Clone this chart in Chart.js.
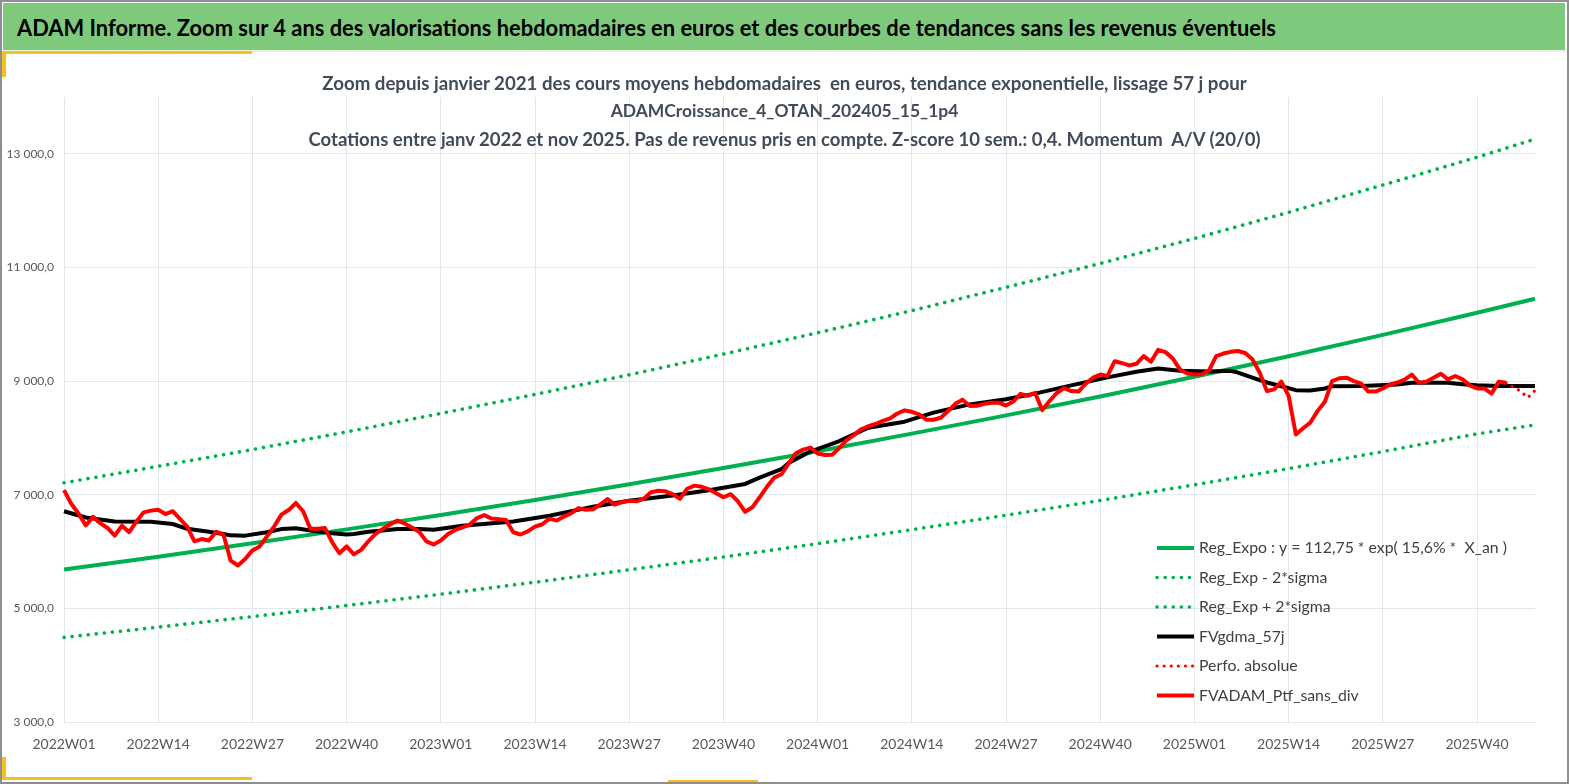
<!DOCTYPE html>
<html lang="fr">
<head>
<meta charset="utf-8">
<title>ADAM Informe</title>
<script src="https://cdn.jsdelivr.net/npm/chart.js@4.4.1/dist/chart.umd.min.js"></script>
<style>
  body { margin: 0; background: #fff; }
  #page { position: relative; width: 1569px; height: 784px; overflow: hidden; background: #fff;
          font-family: Lato, "Open Sans", sans-serif; }
  #frame { position: absolute; left: 0; top: 0; right: 0; bottom: 0; border: 2px solid #8f8f8f;
           box-sizing: border-box; z-index: 6; pointer-events: none; }
  #header { position: absolute; left: 3px; top: 3px; width: 1562px; height: 47px; background: #7fc97d;
            border-bottom: 2px solid #e4f2de; z-index: 3; }
  #header span { position: absolute; left: 14px; top: 50%; transform: translateY(-50%);
                 font-weight: bold; font-size: 22px; color: #000; white-space: pre; }
  .yel { position: absolute; background: #f5c21b; z-index: 4; }
  #subtitle { position: absolute; left: 0; top: 69px; width: 1569px; text-align: center; z-index: 3;
              color: #414b59; font-weight: bold; }
  #subtitle div { height: 28px; line-height: 28px; }
  #subtitle span { white-space: pre; font-size: 16.5px; }
  #chartBox { position: absolute; left: 0; top: 0; width: 1569px; height: 784px; z-index: 2; }
</style>
</head>
<body>
<div id="page">
  <div id="header"><span id="headText">ADAM Informe. Zoom sur 4 ans des valorisations hebdomadaires en euros et des courbes de tendances sans les revenus éventuels</span></div>
  <div class="yel" style="left:2px; top:51px; width:250px; height:3px;"></div>
  <div class="yel" style="left:2px; top:51px; width:4px; height:26px;"></div>
  <div class="yel" style="left:2px; top:757px; width:4px; height:23px;"></div>
  <div class="yel" style="left:2px; top:777px; width:250px; height:3px;"></div>
  <div class="yel" style="left:668px; top:780px; width:90px; height:2px;"></div>
  <div id="subtitle">
    <div><span id="sub1">Zoom depuis janvier 2021 des cours moyens hebdomadaires  en euros, tendance exponentielle, lissage 57 j pour</span></div>
    <div><span id="sub2">ADAMCroissance_4_OTAN_202405_15_1p4</span></div>
    <div><span id="sub3">Cotations entre janv 2022 et nov 2025. Pas de revenus pris en compte. Z-score 10 sem.: 0,4. Momentum  A/V (20/0)</span></div>
  </div>
  <div id="chartBox"><canvas id="chart"></canvas></div>
  <div id="frame"></div>
</div>
<script>
// week categories 2022W01 .. 2025W48
const weeks = [];
for (const [year, n] of [[2022, 52], [2023, 52], [2024, 52], [2025, 48]]) {
  for (let w = 1; w <= n; w++) weeks.push(year + 'W' + String(w).padStart(2, '0'));
}

const yTicks = [3000, 5000, 7000, 9000, 11000, 13000];

// FVADAM_Ptf_sans_div, weekly, 2022W01 .. 2025W44
const ptfValues = [
  7080, 6840, 6670, 6460, 6610, 6500, 6415, 6280, 6455, 6340,
  6530, 6690, 6720, 6735, 6660, 6710, 6575, 6440, 6180, 6220,
  6195, 6350, 6300, 5840, 5755, 5870, 6020, 6090, 6265, 6440,
  6650, 6730, 6855, 6710, 6400, 6400, 6415, 6165, 5970, 6090,
  5950, 6030, 6180, 6310, 6400, 6475, 6545, 6495, 6425, 6350,
  6180, 6125, 6195, 6310, 6380, 6425, 6475, 6590, 6640, 6580,
  6570, 6555, 6340, 6300, 6355, 6440, 6480, 6580, 6545, 6615,
  6675, 6765, 6735, 6745, 6825, 6925, 6825, 6870, 6895, 6885,
  6930, 7045, 7070, 7060, 7010, 6930, 7105, 7160, 7140, 7095,
  7025, 6955, 7010, 6885, 6700, 6780, 6955, 7140, 7300, 7360,
  7550, 7730, 7795, 7830, 7725, 7700, 7705, 7820, 7960, 8050,
  8150, 8205, 8245, 8300, 8345, 8430, 8485, 8460, 8415, 8320,
  8320, 8355, 8475, 8600, 8670, 8560, 8565, 8600, 8620, 8620,
  8570, 8640, 8775, 8740, 8795, 8490, 8650, 8790, 8875, 8825,
  8815, 8955, 9060, 9115, 9090, 9350, 9315, 9275, 9305, 9440,
  9340, 9550, 9510, 9400, 9205, 9135, 9115, 9120, 9185, 9440,
  9485, 9515, 9530, 9495, 9385, 9150, 8825, 8855, 8990, 8740,
  8060, 8170, 8270, 8475, 8635, 9000, 9050, 9060, 9000, 8955,
  8815, 8815, 8870, 8940, 8975, 9025, 9115, 8970, 8990, 9060,
  9130, 9030, 9090, 9030, 8925, 8870, 8870, 8780, 8990, 8970
];

// Perfo. absolue (dotted tail)
const perfIdx = [199, 200, 201, 202, 203];
const perfValues = [8970, 8895, 8825, 8710, 8835];

// FVgdma_57j (smoothed), read at these weeks
const mmIdx = [0, 3, 7, 12, 15, 17, 20, 22, 23, 25, 28, 30, 32, 34, 37, 39, 40, 42, 44, 46, 49,
  51, 55, 62, 67, 73, 78, 84, 89, 94, 96, 99, 100, 103, 107, 111, 116, 120, 125, 130, 134, 139,
  144, 148, 151, 154, 158, 161, 162, 164, 166, 168, 170, 172, 174, 175, 179, 184, 186, 191, 193,
  195, 198, 203];
const mmValues = [6710, 6600, 6530, 6525, 6485, 6400, 6350, 6310, 6285, 6280, 6340, 6395, 6410,
  6370, 6320, 6300, 6310, 6350, 6370, 6395, 6395, 6385, 6455, 6530, 6630, 6790, 6895, 6985, 7080,
  7190, 7300, 7450, 7560, 7760, 7945, 8180, 8285, 8445, 8590, 8680, 8780, 8925, 9065, 9165, 9220,
  9180, 9170, 9180, 9150, 9060, 8975, 8910, 8840, 8836, 8870, 8910, 8912, 8940, 8970, 8970, 8945,
  8925, 8912, 8912];

// exponential regression and +/- 2 sigma bands, read every 13 weeks
const regIdx = [0, 13, 26, 39, 52, 65, 78, 91, 104, 117, 130, 143, 156, 169, 182, 195, 203];
const regValues = [5684, 5910, 6145, 6390, 6644, 6908, 7183, 7469, 7766, 8075, 8396, 8730, 9077,
  9438, 9813, 10203, 10450];
const regLowValues = [4490, 4670, 4855, 5050, 5250, 5460, 5680, 5905, 6140, 6385, 6640, 6900,
  7175, 7460, 7760, 8070, 8230];
const regHighValues = [7210, 7500, 7795, 8105, 8430, 8765, 9110, 9475, 9850, 10240, 10650, 11070,
  11510, 11970, 12450, 12940, 13260];

const GREEN = '#00b050';
const GRID = '#e2e6ed';
const FONT = 'Lato, "Open Sans", sans-serif';

function pts(idx, vals) {
  return idx.map((k, j) => ({ x: weeks[k], y: vals[j] }));
}

function frNum(v) {
  return String(v).replace(/\B(?=(\d{3})+(?!\d))/g, ' ') + ',0';
}

// scale the text so it covers the same width as in the original
function fitWidth(id, target) {
  const el = document.getElementById(id);
  const w = el.getBoundingClientRect().width;
  const fs = parseFloat(getComputedStyle(el).fontSize);
  el.style.fontSize = (fs * target / w).toFixed(2) + 'px';
}
fitWidth('headText', 1260);
fitWidth('sub1', 925);
fitWidth('sub2', 348);
fitWidth('sub3', 952);

// legend drawn inside the plot, bottom right
const insideLegend = {
  id: 'insideLegend',
  afterDraw(chart) {
    const ctx = chart.ctx;
    ctx.save();
    ctx.font = '15.8px ' + FONT;
    ctx.textBaseline = 'middle';
    chart.data.datasets.forEach((ds, k) => {
      const y = 548 + k * 29.5;
      ctx.beginPath();
      ctx.strokeStyle = ds.borderColor;
      ctx.lineWidth = ds.borderWidth;
      ctx.lineCap = ds.borderDash ? 'round' : 'butt';
      ctx.setLineDash(ds.borderDash || []);
      ctx.moveTo(1157, y);
      ctx.lineTo(1194, y);
      ctx.stroke();
      ctx.setLineDash([]);
      ctx.fillStyle = '#404040';
      ctx.fillText(ds.label, 1199, y);
    });
    ctx.restore();
  }
};

new Chart(document.getElementById('chart'), {
  type: 'line',
  data: {
    labels: weeks,
    datasets: [
      { label: 'Reg_Expo : y = 112,75 * exp( 15,6% *  X_an )', data: pts(regIdx, regValues),
        borderColor: GREEN, borderWidth: 4, order: 4 },
      { label: 'Reg_Exp - 2*sigma', data: pts(regIdx, regLowValues),
        borderColor: GREEN, borderWidth: 3.6, borderDash: [0.1, 8], borderCapStyle: 'round', order: 5 },
      { label: 'Reg_Exp + 2*sigma', data: pts(regIdx, regHighValues),
        borderColor: GREEN, borderWidth: 3.6, borderDash: [0.1, 8], borderCapStyle: 'round', order: 5 },
      { label: 'FVgdma_57j', data: pts(mmIdx, mmValues),
        borderColor: '#000000', borderWidth: 4, order: 2 },
      { label: 'Perfo. absolue', data: pts(perfIdx, perfValues),
        borderColor: '#ff0000', borderWidth: 3.2, borderDash: [0.1, 7], borderCapStyle: 'round', order: 1 },
      { label: 'FVADAM_Ptf_sans_div', data: ptfValues,
        borderColor: '#ff0000', borderWidth: 4, order: 0 }
    ]
  },
  options: {
    responsive: true,
    maintainAspectRatio: false,
    animation: false,
    events: [],
    elements: {
      point: { radius: 0 },
      line: { tension: 0, borderJoinStyle: 'round' }
    },
    layout: { padding: { left: 0, right: 34, top: 97, bottom: 0 } },
    plugins: {
      legend: { display: false },
      tooltip: { enabled: false },
      title: { display: false }
    },
    scales: {
      x: {
        type: 'category',
        offset: false,
        grid: {
          color: c => (c.index % 13 === 0 ? GRID : 'rgba(0,0,0,0)'),
          lineWidth: 1,
          drawTicks: false
        },
        border: { color: GRID },
        ticks: {
          autoSkip: false,
          maxRotation: 0,
          minRotation: 0,
          padding: 14,
          color: '#595959',
          font: { family: FONT, size: 14 },
          callback: (v, i) => (i % 13 === 0 ? weeks[i] : '')
        },
        afterFit: s => { s.height = 62; }
      },
      y: {
        min: 3000,
        max: 14000,
        afterBuildTicks: s => { s.ticks = yTicks.map(v => ({ value: v })); },
        afterFit: s => { s.width = 64; },
        grid: { color: GRID, lineWidth: 1, drawTicks: false },
        border: { color: GRID },
        ticks: {
          padding: 10,
          color: '#595959',
          font: { family: FONT, size: 12 },
          callback: v => frNum(v)
        }
      }
    }
  },
  plugins: [insideLegend]
});
</script>
</body>
</html>
